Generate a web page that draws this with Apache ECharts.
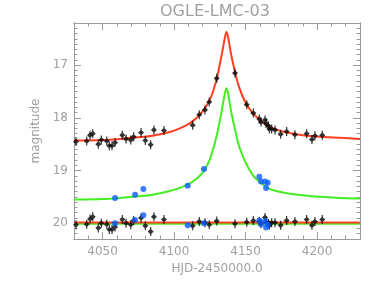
<!DOCTYPE html>
<html><head><meta charset="utf-8">
<script src="https://cdn.jsdelivr.net/npm/echarts@6/dist/echarts.min.js"></script>
<style>html,body{margin:0;padding:0;background:#fff}#c{width:382px;height:286px}</style>
</head><body><div id="c"></div>
<script>
// ---- data ----
const titleText = 'OGLE-LMC-03';
const xName = 'HJD-2450000.0';
const yName = 'magnitude';
const xRange = [4030, 4230];
const yRange = [16.2, 20.3];
const xMinorStep = 10;
const yMinorStep = 0.1;

// I-band photometry (black)
const iTime = [4031.4,4038.9,4041.2,4043.1,4047.0,4049.1,4052.9,4054.7,4056.6,4058.7,4063.8,4066.4,4069.7,4071.7,4076.9,4079.9,4083.6,4085.9,4092.9,4113.0,4117.6,4121.6,4124.6,4129.8,4142.6,4150.8,4155.4,4159.6,4160.8,4163.6,4164.3,4165.9,4166.6,4168.2,4170.6,4174.5,4178.7,4184.5,4192.7,4196.4,4198.5,4203.6];
const iMag  = [18.45,18.44,18.33,18.30,18.50,18.42,18.44,18.53,18.53,18.47,18.33,18.40,18.42,18.36,18.28,18.43,18.51,18.23,18.24,18.14,17.94,17.85,17.70,17.25,17.15,17.75,17.91,18.02,18.08,18.04,18.11,18.15,18.21,18.21,18.23,18.31,18.26,18.32,18.30,18.41,18.34,18.33];
const iResid = [20.03,20.02,19.92,19.88,20.09,20.00,20.02,20.12,20.12,20.07,19.93,20.00,20.03,19.95,19.90,20.05,20.16,19.88,19.93,20.05,19.97,19.99,20.03,19.96,20.01,19.98,19.95,19.97,20.01,19.89,19.98,20.00,20.04,19.99,19.99,20.04,19.95,19.97,19.93,20.04,19.97,19.93];

// V-band photometry (blue)
const vTime = [4058.7,4072.7,4078.5,4109.5,4120.9,4159.6,4160.8,4163.6,4165.5,4164.3];
const vMag  = [19.52,19.46,19.35,19.29,18.97,19.12,19.21,19.21,19.23,19.33];
const vResid = [20.00,19.94,19.85,20.04,20.00,19.95,20.02,19.96,20.03,20.08];

// model curves
const modelTime = [4030,4050,4062,4075,4085,4097,4104,4110,4115,4118,4121,4124.5,4127,4129.8,4132,4134,4135.5,4136.6,4137.7,4139,4140.5,4142.6,4145,4148,4150.8,4155.4,4160,4164.8,4170,4178.7,4190,4202,4216,4230];
const modelI = [18.43,18.42,18.40,18.37,18.34,18.27,18.20,18.12,18.02,17.94,17.84,17.68,17.52,17.26,16.98,16.70,16.48,16.37,16.46,16.66,16.88,17.13,17.38,17.60,17.75,17.92,18.04,18.14,18.21,18.28,18.33,18.36,18.38,18.40];
const modelV = [19.55,19.54,19.52,19.49,19.46,19.39,19.33,19.26,19.17,19.10,19.00,18.82,18.62,18.34,18.05,17.76,17.54,17.44,17.53,17.74,17.96,18.22,18.50,18.72,18.89,19.10,19.22,19.32,19.38,19.43,19.47,19.50,19.52,19.53];

// residual zero levels
const residLineTime = [4030, 4230];
const residLineI = [19.985, 19.985];
const residLineV = [20.01, 20.01];

// ---- chart ----
const zip = (a, b) => a.map((v, i) => [v, b[i]]);
const axisGray = '#9a9a9a';
const tickGray = '#9a9a9a';
const textGray = '#a0a0a0';
const font = 'DejaVu Sans';

function xAx(grid, pos, step, len, labels, withName) {
  const o = {
    type: 'value', gridIndex: grid, position: pos, min: xRange[0], max: xRange[1],
    axisLine: { show: true, onZero: false, lineStyle: { color: axisGray } },
    splitLine: { show: false },
    axisTick: { show: true, inside: true, length: len, lineStyle: { color: tickGray } },
    axisLabel: { show: labels, formatter: v => String(v), color: textGray, fontFamily: font, fontSize: 12, margin: 7, showMinLabel: false, showMaxLabel: false }
  };
  if (step) o.interval = step;
  if (withName) {
    o.name = xName; o.nameLocation = 'middle'; o.nameGap = 22;
    o.nameTextStyle = { color: textGray, fontFamily: font, fontSize: 12 };
  }
  return o;
}
function yAx(grid, pos, step, len, labels, withName) {
  const o = {
    type: 'value', gridIndex: grid, position: pos, min: yRange[0], max: yRange[1], inverse: true,
    axisLine: { show: true, onZero: false, lineStyle: { color: axisGray } },
    splitLine: { show: false },
    axisTick: { show: true, inside: true, length: len, lineStyle: { color: tickGray } },
    axisLabel: { show: labels, formatter: v => String(v), color: textGray, fontFamily: font, fontSize: 12, margin: 6, showMinLabel: false, showMaxLabel: false }
  };
  if (step) o.interval = step;
  if (withName) {
    o.name = yName; o.nameLocation = 'middle'; o.nameGap = 27; o.nameRotate = 90;
    o.nameTextStyle = { color: textGray, fontFamily: font, fontSize: 12 };
  }
  return o;
}

const blackSym = 'path://M-0.6,-5 L0.6,-5 L0.6,-2.6 L3,0 L0.6,2.6 L0.6,5 L-0.6,5 L-0.6,2.6 L-3,0 L-0.6,-2.6 Z';
const gridBox = { left: 74, right: 22, top: 23, bottom: 47 };

const chart = echarts.init(document.getElementById('c'));
chart.setOption({
  animation: false,
  backgroundColor: '#ffffff',
  graphic: [{
    type: 'text', left: 160, top: 4,
    style: { text: titleText, fill: textGray, font: '16px "DejaVu Sans"' }
  }],
  grid: [Object.assign({}, gridBox), Object.assign({}, gridBox)],
  xAxis: [
    xAx(0, 'bottom', null, 7, true, true),
    xAx(0, 'top', null, 7, false, false),
    xAx(1, 'bottom', xMinorStep, 3.5, false, false),
    xAx(1, 'top', xMinorStep, 3.5, false, false)
  ],
  yAxis: [
    yAx(0, 'left', null, 7, true, true),
    yAx(0, 'right', null, 7, false, false),
    yAx(1, 'left', yMinorStep, 3.5, false, false),
    yAx(1, 'right', yMinorStep, 3.5, false, false)
  ],
  series: [
    { type: 'line', data: zip(residLineTime, residLineV), symbol: 'none', lineStyle: { color: '#44ee22', width: 2 }, z: 2 },
    { type: 'line', data: zip(residLineTime, residLineI), symbol: 'none', lineStyle: { color: '#ff4020', width: 2 }, z: 3 },
    { type: 'line', data: zip(modelTime, modelV), symbol: 'none', smooth: 0.3, lineStyle: { color: '#44ee22', width: 2 }, z: 2 },
    { type: 'line', data: zip(modelTime, modelI), symbol: 'none', smooth: 0.3, lineStyle: { color: '#ff4020', width: 2 }, z: 3 },
    { type: 'scatter', data: zip(iTime, iMag), symbol: blackSym, symbolSize: [6, 9], itemStyle: { color: '#000' }, z: 5 },
    { type: 'scatter', data: zip(iTime, iResid), symbol: blackSym, symbolSize: [6, 9], itemStyle: { color: '#000' }, z: 5 },
    { type: 'scatter', data: zip(vTime, vMag), symbol: 'circle', symbolSize: 6, itemStyle: { color: '#0a5cff' }, z: 6 },
    { type: 'scatter', data: zip(vTime, vResid), symbol: 'circle', symbolSize: 6, itemStyle: { color: '#0a5cff' }, z: 6 }
  ]
});
</script>
</body></html>
